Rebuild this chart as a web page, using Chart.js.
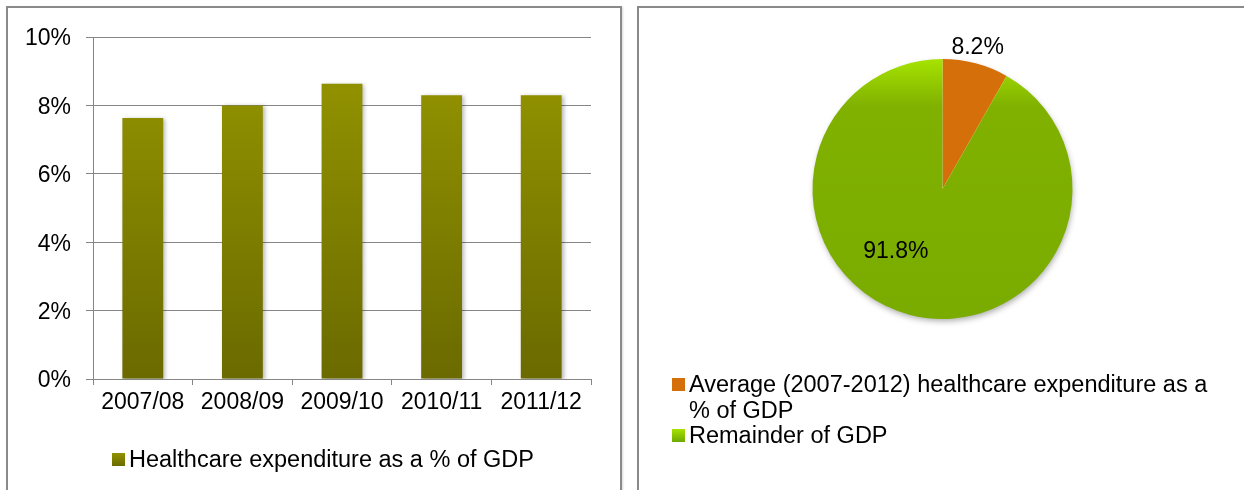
<!DOCTYPE html>
<html>
<head>
<meta charset="utf-8">
<script src="https://cdn.jsdelivr.net/npm/chart.js@4.4.1/dist/chart.umd.min.js"></script>
<style>
html,body{margin:0;padding:0;background:#fff;width:1244px;height:490px;overflow:hidden;font-family:"Liberation Sans",Arial,sans-serif;}
.panel{position:absolute;border:2px solid #8a8a8a;box-sizing:border-box;box-shadow:1px 1px 2px rgba(0,0,0,0.15);}
#p1{left:6px;top:6px;width:616px;height:520px;}
#p2{left:637px;top:6px;width:700px;height:520px;}
canvas{position:absolute;}
#barCanvas{left:0;top:0;}
#pieCanvas{left:637px;top:7px;}
.legend{position:absolute;font-size:23.5px;color:#000;line-height:25.5px;}
.item{display:flex;align-items:flex-start;}
.sw{width:13px;height:13px;flex:none;margin-top:6px;margin-right:4px;}
#barLegend{left:112px;top:447px;}
#pieLegend{left:672px;top:372px;}
#pieLegend .txt{max-width:545px;}
</style>
</head>
<body>
<div class="panel" id="p1"></div>
<div class="panel" id="p2"></div>
<canvas id="barCanvas" width="630" height="490"></canvas>
<canvas id="pieCanvas" width="607" height="483"></canvas>
<div class="legend" id="barLegend"></div>
<div class="legend" id="pieLegend"></div>
<script>
// ---- data ----
const barCategories = ['2007/08', '2008/09', '2009/10', '2010/11', '2011/12'];
const barValues = [7.63, 8.0, 8.63, 8.3, 8.3];
const barSeriesName = 'Healthcare expenditure as a % of GDP';
const yTickValues = [0, 2, 4, 6, 8, 10];
const pieLabels = ['Average (2007-2012) healthcare expenditure as a % of GDP', 'Remainder of GDP'];
const pieValues = [8.2, 91.8];

// ---- styles ----
const FONT = '"Liberation Sans", Arial, sans-serif';
const GRID = '#868686';
const barTop = '#979700', barBottom = '#6a6a00';
const pieColors = ['#d46f0a', null];
const pieLabelPlacement = [
  {radial: 1.12, angleShift: -0.8 * Math.PI / 180},
  {radial: 0.6, angleShift: 22 * Math.PI / 180}
];

Chart.defaults.font.family = FONT;
Chart.defaults.color = '#000';
Chart.defaults.animation = false;

const barShadow = {
  id: 'barShadow',
  beforeDatasetDraw(chart) {
    const c = chart.ctx;
    c.save();
    c.shadowColor = 'rgba(0,0,0,0.28)';
    c.shadowBlur = 4;
    c.shadowOffsetX = 2;
    c.shadowOffsetY = 1;
  },
  afterDatasetDraw(chart) { chart.ctx.restore(); }
};

new Chart(document.getElementById('barCanvas'), {
  type: 'bar',
  data: {
    labels: barCategories,
    datasets: [{
      label: barSeriesName,
      data: barValues,
      backgroundColor: (ctx) => {
        const ca = ctx.chart.chartArea;
        if (!ca) return barBottom;
        const g = ctx.chart.ctx.createLinearGradient(0, ca.top, 0, ca.bottom);
        g.addColorStop(0, barTop);
        g.addColorStop(1, barBottom);
        return g;
      },
      borderWidth: 0,
      barPercentage: 0.41,
      categoryPercentage: 1.0
    }]
  },
  options: {
    responsive: false,
    animation: false,
    layout: {padding: {left: 20, right: 39, top: 37, bottom: 71}},
    plugins: {legend: {display: false}, tooltip: {enabled: false}},
    scales: {
      x: {
        grid: {display: true, drawOnChartArea: false, drawTicks: true, tickLength: 6, color: GRID, lineWidth: 1, offset: true},
        border: {display: true, color: GRID, width: 1},
        ticks: {font: {size: 23}, color: '#000', padding: 4, maxRotation: 0, autoSkip: false},
        afterFit: (s) => { s.height = 40; }
      },
      y: {
        min: 0, max: 10,
        afterBuildTicks: (s) => { s.ticks = yTickValues.map(v => ({value: v})); },
        grid: {color: GRID, lineWidth: 1, tickLength: 7, drawTicks: true},
        border: {display: true, color: GRID, width: 1},
        ticks: {font: {size: 23}, color: '#000', padding: 15, labelOffset: 2, callback: (v) => v + '%'},
        afterFit: (s) => { s.width = 73; }
      }
    }
  },
  plugins: [barShadow]
});

const pieShadow = {
  id: 'pieShadow',
  beforeDatasetsDraw(chart) {
    const arc = chart.getDatasetMeta(0).data[0];
    if (!arc) return;
    const p = arc.getProps(['x', 'y', 'outerRadius'], true);
    const c = chart.ctx;
    c.save();
    c.shadowColor = 'rgba(0,0,0,0.35)';
    c.shadowBlur = 6;
    c.shadowOffsetX = 1;
    c.shadowOffsetY = 3;
    c.fillStyle = '#fff';
    c.beginPath();
    c.arc(p.x, p.y, p.outerRadius - 1, 0, Math.PI * 2);
    c.fill();
    c.restore();
  }
};

const pieLabelPlugin = {
  id: 'pieLabelPlugin',
  afterDatasetsDraw(chart) {
    const c = chart.ctx;
    const meta = chart.getDatasetMeta(0);
    c.save();
    c.font = '23px ' + FONT;
    c.fillStyle = '#000';
    c.textAlign = 'center';
    c.textBaseline = 'middle';
    meta.data.forEach((arc, i) => {
      const p = arc.getProps(['x', 'y', 'startAngle', 'endAngle', 'outerRadius'], true);
      const pl = pieLabelPlacement[i];
      const a = (p.startAngle + p.endAngle) / 2 + pl.angleShift;
      const d = p.outerRadius * pl.radial;
      c.fillText(pieValues[i].toFixed(1) + '%', p.x + Math.cos(a) * d, p.y + Math.sin(a) * d);
    });
    c.restore();
  }
};

new Chart(document.getElementById('pieCanvas'), {
  type: 'pie',
  data: {
    labels: pieLabels,
    datasets: [{
      data: pieValues,
      borderWidth: 0,
      backgroundColor: (ctx) => {
        if (ctx.dataIndex === 0) return pieColors[0];
        const ca = ctx.chart.chartArea;
        if (!ca) return '#7db000';
        const g = ctx.chart.ctx.createLinearGradient(0, ca.top, 0, ca.bottom);
        g.addColorStop(0, '#a6e300');
        g.addColorStop(0.18, '#80b100');
        g.addColorStop(1, '#7aac00');
        return g;
      }
    }]
  },
  options: {
    responsive: false,
    animation: false,
    rotation: 0,
    layout: {padding: {left: 175.5, right: 171.5, top: 52, bottom: 171}},
    plugins: {legend: {display: false}, tooltip: {enabled: false}}
  },
  plugins: [pieShadow, pieLabelPlugin]
});

// ---- HTML legends ----
function addItem(container, text, bg) {
  const it = document.createElement('div');
  it.className = 'item';
  const sw = document.createElement('div');
  sw.className = 'sw';
  sw.style.background = bg;
  const t = document.createElement('div');
  t.className = 'txt';
  t.textContent = text;
  it.appendChild(sw);
  it.appendChild(t);
  container.appendChild(it);
}
addItem(document.getElementById('barLegend'), barSeriesName, 'linear-gradient(#929200, #6c6c00)');
const pl = document.getElementById('pieLegend');
addItem(pl, pieLabels[0], '#d46f0a');
addItem(pl, pieLabels[1], 'linear-gradient(#a6e300, #6fa800)');
</script>
</body>
</html>
